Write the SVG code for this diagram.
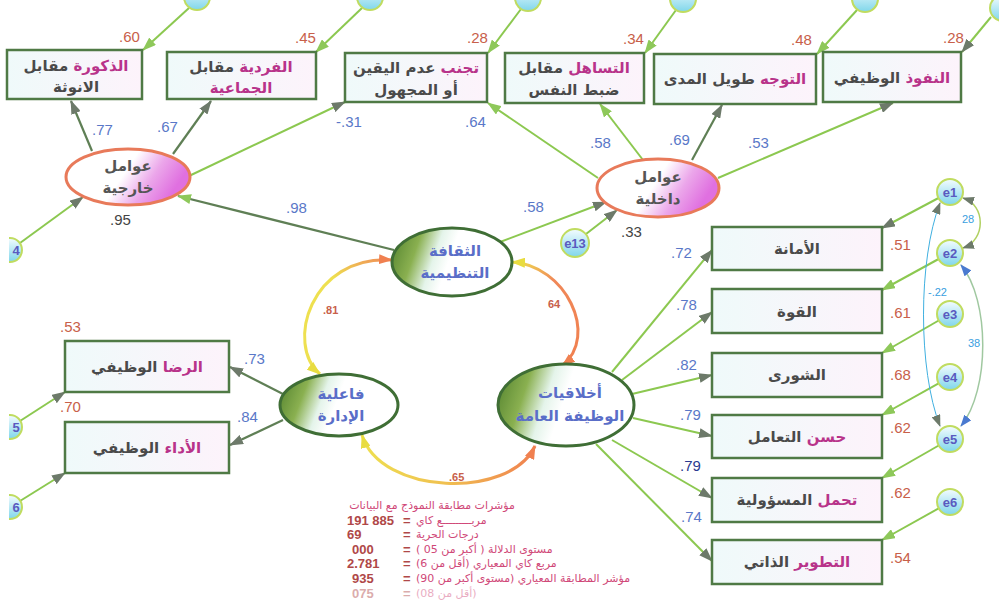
<svg xmlns="http://www.w3.org/2000/svg" width="999" height="605" viewBox="0 0 999 605">
<defs>
<style>
.box{fill:url(#boxg);stroke:#4f7a45;stroke-width:2.5}
.bt{font-family:"DejaVu Sans",sans-serif;font-weight:bold;font-size:15px;fill:#4a4a4a;text-anchor:middle}
.pk{fill:#b8338a}
.lb{font-family:"Liberation Sans",Arial,sans-serif;font-size:15px;fill:#5a78c8}
.lr{font-family:"Liberation Sans",Arial,sans-serif;font-size:15px;fill:#c8604a}
.lk{font-family:"Liberation Sans",Arial,sans-serif;font-size:15px;fill:#444}
.lbd{font-family:"Liberation Sans",Arial,sans-serif;font-size:15px;fill:#2a3a90}
.cl{font-family:"Liberation Sans",Arial,sans-serif;font-size:11px;font-weight:bold;fill:#c8604a}
.el{font-family:"Liberation Sans",Arial,sans-serif;font-size:11px;fill:#3aa0e0}
.lat1{fill:url(#mag);stroke:#e87a5a;stroke-width:3}
.lat2{fill:url(#grn);stroke:#3f6e35;stroke-width:3}
.lt{font-family:"DejaVu Sans",sans-serif;font-weight:bold;font-size:15px;fill:#5a6ec8;text-anchor:middle}
.ltg{fill:#555}
.err{fill:url(#cy);stroke:#c0dc60;stroke-width:2}
.et{font-family:"Liberation Sans",Arial,sans-serif;font-weight:bold;font-size:13px;fill:#5a5ac0;text-anchor:middle}
.ln{stroke:#8cc850;stroke-width:2;fill:none}
.ld{stroke:#5f7f55;stroke-width:2.2;fill:none}
.ft{font-family:"DejaVu Sans",sans-serif;font-size:11px;fill:#d04878}
.fn{font-family:"Liberation Sans",Arial,sans-serif;font-size:13px;font-weight:bold;fill:#b04848}
</style>
<linearGradient id="boxg" x1="0" y1="0" x2="1" y2="0"><stop offset="0" stop-color="#effafa"/><stop offset="1" stop-color="#fdf3fb"/></linearGradient>
<linearGradient id="mag" x1="0" y1="0" x2="1" y2="0.3"><stop offset="0" stop-color="#fff"/><stop offset="0.55" stop-color="#fff"/><stop offset="0.78" stop-color="#eba6ea"/><stop offset="1" stop-color="#e070e0"/></linearGradient>
<linearGradient id="grn" x1="0" y1="0" x2="1" y2="0.2"><stop offset="0" stop-color="#4f7f2c"/><stop offset="0.25" stop-color="#8ab050"/><stop offset="0.42" stop-color="#e4f4ea"/><stop offset="0.55" stop-color="#fff"/><stop offset="1" stop-color="#fff"/></linearGradient>
<linearGradient id="cy" x1="0" y1="0" x2="0" y2="1"><stop offset="0" stop-color="#f4fcff"/><stop offset="1" stop-color="#7fd6ea"/></linearGradient>
<linearGradient id="g81" gradientUnits="userSpaceOnUse" x1="392" y1="258" x2="320" y2="374"><stop offset="0" stop-color="#f08858"/><stop offset="0.35" stop-color="#eee050"/><stop offset="1" stop-color="#eee050"/></linearGradient>
<linearGradient id="g64" gradientUnits="userSpaceOnUse" x1="512" y1="262" x2="562" y2="366"><stop offset="0" stop-color="#eee050"/><stop offset="0.3" stop-color="#f08858"/><stop offset="1" stop-color="#f08050"/></linearGradient>
<linearGradient id="g65" gradientUnits="userSpaceOnUse" x1="362" y1="435" x2="535" y2="446"><stop offset="0" stop-color="#eee050"/><stop offset="0.5" stop-color="#f0c050"/><stop offset="1" stop-color="#f08050"/></linearGradient>
<marker id="ag" markerWidth="14" markerHeight="10" refX="13" refY="5" orient="auto" markerUnits="userSpaceOnUse"><path d="M0,0 L14,5 L0,10 z" fill="#8ec85a"/></marker>
<marker id="ad" markerWidth="14" markerHeight="10" refX="13" refY="5" orient="auto" markerUnits="userSpaceOnUse"><path d="M0,0 L14,5 L0,10 z" fill="#6d7a6a"/></marker>
<marker id="aos" markerWidth="14" markerHeight="10" refX="13" refY="5" orient="auto-start-reverse" markerUnits="userSpaceOnUse"><path d="M0,0 L14,5 L0,10 z" fill="#f08050"/></marker>
<marker id="ays" markerWidth="14" markerHeight="10" refX="13" refY="5" orient="auto-start-reverse" markerUnits="userSpaceOnUse"><path d="M0,0 L14,5 L0,10 z" fill="#e8dc40"/></marker>
<marker id="ads" markerWidth="12" markerHeight="9" refX="11" refY="4.5" orient="auto-start-reverse" markerUnits="userSpaceOnUse"><path d="M0,0 L12,4.5 L0,9 z" fill="#6d7a6a"/></marker>
<marker id="abs" markerWidth="12" markerHeight="9" refX="11" refY="4.5" orient="auto-start-reverse" markerUnits="userSpaceOnUse"><path d="M0,0 L12,4.5 L0,9 z" fill="#4a7ad0"/></marker>
<clipPath id="lc"><rect x="9" y="0" width="40" height="605"/></clipPath>
</defs>
<rect width="999" height="605" fill="#fff"/>

<g id="connectors">
<path class="ld" d="M92,151 L71,101" marker-end="url(#ad)"/>
<path class="ld" d="M173,154 L211,101" marker-end="url(#ad)"/>
<path class="ln" d="M189,176 L345,102" marker-end="url(#ad)"/>
<path class="ln" d="M598,178 L488,103" marker-end="url(#ag)"/>
<path class="ln" d="M643,160 L600,104" marker-end="url(#ag)"/>
<path class="ld" d="M692,160 L722,105" marker-end="url(#ad)"/>
<path class="ln" d="M718,178 L893,103" marker-end="url(#ad)"/>
<path class="ln" d="M189,8 L143,50" marker-end="url(#ag)"/>
<path class="ln" d="M362,8 L316,52" marker-end="url(#ag)"/>
<path class="ln" d="M521,9 L488,53" marker-end="url(#ag)"/>
<path class="ln" d="M676,10 L645,53" marker-end="url(#ag)"/>
<path class="ln" d="M857,10 L817,54" marker-end="url(#ag)"/>
<path class="ln" d="M991,17 L962,52" marker-end="url(#ad)"/>
<path class="ln" d="M20,243 L83,197" marker-end="url(#ad)"/>
<path class="ln" d="M586,234 L617,210" marker-end="url(#ad)"/>
<path class="ld" d="M394,250 L178,196" marker-end="url(#ag)"/>
<path class="ln" d="M500,242 L606,202" marker-end="url(#ad)"/>
<path class="ld" d="M283,394 L230,367" marker-end="url(#ad)"/>
<path class="ld" d="M283,420 L230,445" marker-end="url(#ad)"/>
<path class="ln" d="M20,421 L65,392" marker-end="url(#ad)"/>
<path class="ln" d="M20,501 L65,473" marker-end="url(#ad)"/>
<path class="ln" d="M612,372 L712,250" marker-end="url(#ad)"/>
<path class="ln" d="M622,380 L712,312" marker-end="url(#ad)"/>
<path class="ln" d="M632,394 L712,375" marker-end="url(#ad)"/>
<path class="ln" d="M633,418 L712,436" marker-end="url(#ad)"/>
<path class="ln" d="M612,440 L712,498" marker-end="url(#ad)"/>
<path class="ln" d="M596,444 L712,561" marker-end="url(#ad)"/>
<path class="ln" d="M938.5,198 L882,228" marker-end="url(#ad)"/>
<path class="ln" d="M938.6,259 L882,290" marker-end="url(#ag)"/>
<path class="ln" d="M938.7,320.5 L882,353" marker-end="url(#ag)"/>
<path class="ln" d="M938.6,383.4 L882,415" marker-end="url(#ag)"/>
<path class="ln" d="M938.7,445.5 L882,478" marker-end="url(#ag)"/>
<path class="ln" d="M938.6,508.4 L882,540" marker-end="url(#ag)"/>
<path d="M392,260 C310,255 285,345 320,374" fill="none" stroke="url(#g81)" stroke-width="3" marker-start="url(#aos)" marker-end="url(#ays)"/>
<path d="M512,262 C565,265 600,335 562,366" fill="none" stroke="url(#g64)" stroke-width="3" marker-start="url(#ays)" marker-end="url(#aos)"/>
<path d="M362,435 C380,495 510,500 535,446" fill="none" stroke="url(#g65)" stroke-width="3" marker-start="url(#ays)" marker-end="url(#aos)"/>
<path d="M963,198 C986,205 986,240 963,248" fill="none" stroke="#b0d060" stroke-width="1.5" marker-start="url(#ads)" marker-end="url(#ads)"/>
<path d="M940,203 C918,260 918,370 940,426" fill="none" stroke="#40b0e0" stroke-width="1" marker-start="url(#ads)" marker-end="url(#ads)"/>
<path d="M961,265 C990,300 990,390 961,426" fill="none" stroke="#a0c8a0" stroke-width="1.5" marker-start="url(#abs)" marker-end="url(#abs)"/>
</g>

<g id="labels">
<text class="lr" x="119" y="42">.60</text>
<text class="lr" x="295" y="43">.45</text>
<text class="lr" x="467" y="43">.28</text>
<text class="lr" x="623" y="44">.34</text>
<text class="lr" x="791" y="45">.48</text>
<text class="lr" x="943" y="43">.28</text>
<text class="lb" x="92" y="135">.77</text>
<text class="lb" x="157" y="132">.67</text>
<text class="lb" x="336" y="127">-.31</text>
<text class="lb" x="465" y="127">.64</text>
<text class="lb" x="590" y="148">.58</text>
<text class="lb" x="669" y="145">.69</text>
<text class="lb" x="748" y="148">.53</text>
<text class="lk" x="110" y="225">.95</text>
<text class="lk" x="621" y="237">.33</text>
<text class="lb" x="286" y="213">.98</text>
<text class="lb" x="523" y="212">.58</text>
<text class="lr" x="60" y="332">.53</text>
<text class="lr" x="60" y="412">.70</text>
<text class="lb" x="244" y="364">.73</text>
<text class="lb" x="237" y="422">.84</text>
<text class="cl" x="323" y="314">.81</text>
<text class="cl" x="548" y="308">64</text>
<text class="cl" x="449" y="481">.65</text>
<text class="lb" x="671" y="258">.72</text>
<text class="lb" x="676" y="310">.78</text>
<text class="lb" x="676" y="370">.82</text>
<text class="lb" x="680" y="420">.79</text>
<text class="lbd" x="680" y="471">.79</text>
<text class="lb" x="681" y="522">.74</text>
<text class="lr" x="890" y="250">.51</text>
<text class="lr" x="890" y="318">.61</text>
<text class="lr" x="890" y="380">.68</text>
<text class="lr" x="890" y="433">.62</text>
<text class="lr" x="890" y="498">.62</text>
<text class="lr" x="890" y="563">.54</text>
<text class="el" x="962" y="223">28</text>
<text class="el" x="928" y="296">-.22</text>
<text class="el" x="968" y="347">38</text>
</g>

<g id="box-masculinity"><rect class="box" x="7" y="50" width="135" height="49"/><text class="bt" x="76" y="71"><tspan class="pk">الذكورة</tspan> مقابل</text><text class="bt" x="76" y="92">الانوثة</text></g>
<g id="box-individualism"><rect class="box" x="167" y="52" width="149" height="47"/><text class="bt" x="241" y="72"><tspan class="pk">الفردية</tspan> مقابل</text><text class="bt" x="241" y="93"><tspan class="pk">الجماعية</tspan></text></g>
<g id="box-uncertainty"><rect class="box" x="345" y="53" width="142" height="49"/><text class="bt" x="416" y="73"><tspan class="pk">تجنب</tspan> عدم اليقين</text><text class="bt" x="416" y="95">أو المجهول</text></g>
<g id="box-indulgence"><rect class="box" x="505" y="53" width="139" height="50"/><text class="bt" x="574" y="73"><tspan class="pk">التساهل</tspan> مقابل</text><text class="bt" x="574" y="95">ضبط النفس</text></g>
<g id="box-longterm"><rect class="box" x="654" y="54" width="162" height="50"/><text class="bt" x="735" y="84"><tspan class="pk">التوجه</tspan> طويل المدى</text></g>
<g id="box-power"><rect class="box" x="823" y="52" width="138" height="50"/><text class="bt" x="892" y="83"><tspan class="pk">النفوذ</tspan> الوظيفي</text></g>

<g id="lat-external"><ellipse class="lat1" cx="128" cy="177" rx="62" ry="28"/><text class="lt ltg" x="128" y="171">عوامل</text><text class="lt ltg" x="128" y="193">خارجية</text></g>
<g id="lat-internal"><ellipse class="lat1" cx="658" cy="188" rx="61" ry="29"/><text class="lt ltg" x="658" y="182">عوامل</text><text class="lt ltg" x="658" y="204">داخلية</text></g>
<g id="lat-culture"><ellipse class="lat2" cx="452" cy="262" rx="60" ry="34"/><text class="lt" x="455" y="256">الثقافة</text><text class="lt" x="455" y="278">التنظيمية</text></g>
<g id="lat-management"><ellipse class="lat2" cx="339" cy="405" rx="59" ry="31"/><text class="lt" x="341" y="399">فاعلية</text><text class="lt" x="341" y="421">الإدارة</text></g>
<g id="lat-ethics"><ellipse class="lat2" cx="566" cy="405" rx="68" ry="41"/><text class="lt" x="570" y="398">أخلاقيات</text><text class="lt" x="570" y="421">الوظيفة العامة</text></g>

<g id="box-satisfaction"><rect class="box" x="65" y="341" width="164" height="51"/><text class="bt" x="147" y="372"><tspan class="pk">الرضا</tspan> الوظيفي</text></g>
<g id="box-performance"><rect class="box" x="65" y="422" width="164" height="51"/><text class="bt" x="147" y="453"><tspan class="pk">الأداء</tspan> الوظيفي</text></g>

<g id="box-honesty"><rect class="box" x="712" y="227" width="170" height="43"/><text class="bt" x="797" y="254">الأمانة</text></g>
<g id="box-strength"><rect class="box" x="712" y="289" width="170" height="44"/><text class="bt" x="797" y="317">القوة</text></g>
<g id="box-shura"><rect class="box" x="712" y="353" width="170" height="44"/><text class="bt" x="797" y="380">الشورى</text></g>
<g id="box-treatment"><rect class="box" x="712" y="415" width="170" height="43"/><text class="bt" x="797" y="442"><tspan class="pk">حسن</tspan> التعامل</text></g>
<g id="box-responsibility"><rect class="box" x="712" y="478" width="170" height="44"/><text class="bt" x="797" y="505"><tspan class="pk">تحمل</tspan> المسؤولية</text></g>
<g id="box-selfdev"><rect class="box" x="712" y="540" width="170" height="44"/><text class="bt" x="797" y="567"><tspan class="pk">التطوير</tspan> الذاتي</text></g>

<g id="err-top">
<circle class="err" cx="197" cy="-3" r="13"/>
<circle class="err" cx="370" cy="-3" r="13"/>
<circle class="err" cx="528" cy="-2" r="13"/>
<circle class="err" cx="683" cy="-1" r="13"/>
<circle class="err" cx="865" cy="-1" r="13"/>
<circle class="err" cx="1003" cy="8" r="13"/>
</g>
<g id="err-left" clip-path="url(#lc)">
<circle class="err" cx="10" cy="250" r="12"/><text class="et" x="16" y="255">4</text>
<circle class="err" cx="10" cy="427" r="12"/><text class="et" x="16" y="432">5</text>
<circle class="err" cx="10" cy="507" r="12"/><text class="et" x="16" y="512">6</text>
</g>
<g id="e13"><circle class="err" cx="575" cy="243" r="14"/><text class="et" x="575" y="248">e13</text></g>
<g id="e1"><circle class="err" cx="950" cy="192" r="13"/><text class="et" x="950" y="197">e1</text></g>
<g id="e2"><circle class="err" cx="950" cy="253" r="13"/><text class="et" x="950" y="258">e2</text></g>
<g id="e3"><circle class="err" cx="950" cy="314" r="13"/><text class="et" x="950" y="319">e3</text></g>
<g id="e4"><circle class="err" cx="950" cy="377" r="13"/><text class="et" x="950" y="382">e4</text></g>
<g id="e5"><circle class="err" cx="950" cy="439" r="13"/><text class="et" x="950" y="444">e5</text></g>
<g id="e6"><circle class="err" cx="950" cy="502" r="13"/><text class="et" x="950" y="507">e6</text></g>

<g id="fit">
<text class="ft" x="432" y="509" text-anchor="middle">مؤشرات مطابقة النموذج مع البيانات</text>
<text class="fn" x="347" y="525">191 885</text><text class="fn" x="403" y="525">=</text><text class="ft" x="416" y="524">مربـــــــــع كاي</text>
<text class="fn" x="347" y="539">69</text><text class="fn" x="403" y="539">=</text><text class="ft" x="416" y="538">درجات الحرية</text>
<text class="fn" x="352" y="554">000</text><text class="fn" x="403" y="554">=</text><text class="ft" x="416" y="553" direction="rtl" text-anchor="end">مستوى الدلالة ( أكبر من 05 )</text>
<text class="fn" x="347" y="568">2.781</text><text class="fn" x="403" y="568">=</text><text class="ft" x="416" y="567" direction="rtl" text-anchor="end">مربع كاي المعياري (أقل من 6)</text>
<text class="fn" x="352" y="583">935</text><text class="fn" x="403" y="583">=</text><text class="ft" x="416" y="582" direction="rtl" text-anchor="end">مؤشر المطابقة المعياري (مستوى أكبر من 90)</text>
<g opacity="0.45"><text class="fn" x="352" y="598">075</text><text class="fn" x="403" y="598">=</text><text class="ft" x="416" y="597" direction="rtl" text-anchor="end">(أقل من 08)</text></g>
</g>
</svg>
